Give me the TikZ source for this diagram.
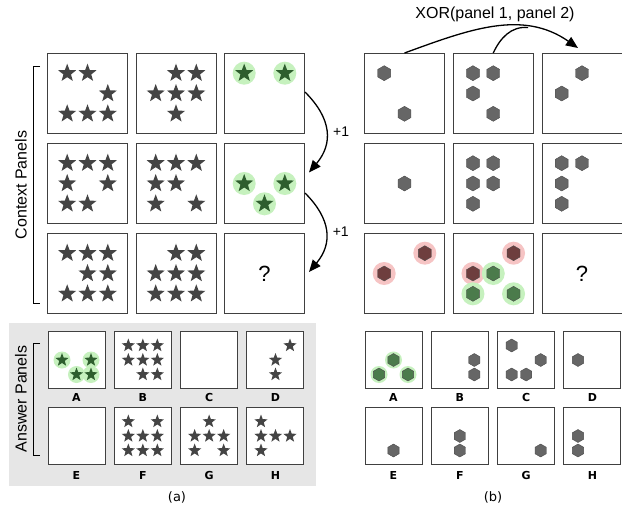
\documentclass[tikz,border=0pt]{standalone}
\usepackage{fontspec}
\setmainfont{Liberation Sans}
\newfontfamily\djv{DejaVu Sans}
\usetikzlibrary{shapes.geometric,arrows.meta,positioning}
\definecolor{starc}{HTML}{444444}
\definecolor{hexc}{HTML}{666666}
\definecolor{haloG}{HTML}{C6F1BE}
\definecolor{haloR}{HTML}{F6C4C4}
\definecolor{starG}{HTML}{2E5E2E}
\definecolor{hexG}{HTML}{4B7B4B}
\definecolor{hexR}{HTML}{6E3E3E}
\definecolor{ansbg}{HTML}{E6E6E6}

\begin{document}
\begin{tikzpicture}[x=1pt, y=1pt,
    panel/.style={draw=black!75, line width=1pt, fill=white, inner sep=0pt, minimum size=80pt},
    apanel/.style={panel, minimum size=57pt},
    bstar/.style={star, star points=5, star point ratio=2.4, fill=starc, inner sep=0pt, minimum size=19pt},
    sstar/.style={bstar, minimum size=14pt},
    bhex/.style={regular polygon, regular polygon sides=6, shape border rotate=30, fill=hexc, draw=black!70, line width=0.4pt, inner sep=0pt, minimum size=15pt},
    shex/.style={bhex, minimum size=13pt},
    halo/.style={circle, fill=#1, inner sep=0pt, minimum size=23pt},
    shalo/.style={halo=#1, minimum size=17pt},
    letter/.style={font=\djv\bfseries\fontsize{11}{11}\selectfont, inner sep=0pt},
    bigq/.style={font=\fontsize{22}{22}\selectfont},
    lbl/.style={font=\fontsize{16}{16}\selectfont},
    arr/.style={line width=1.3pt, -{Triangle[length=12pt,width=10pt]}},
  ]
  \useasboundingbox (0,0) rectangle (622,-506);
  \node[fill=ansbg, inner sep=0pt, minimum width=307pt, minimum height=163pt] (ansbox) at (162.5,-404.5) {};

  \foreach \i in {1,2,3}
    \foreach \j in {1,2,3} {
      \node[panel] (L\i\j) at ({87.5+(\j-1)*88.5},{-93.5-(\i-1)*90}) {};
      \node[panel] (R\i\j) at ({404.5+(\j-1)*88.75},{-93.5-(\i-1)*90}) {};
    }
  \foreach \n [count=\k from 0] in {A,B,C,D} {
    \node[apanel] (L\n) at ({76.5+\k*66.33},-360) {};
    \node[apanel] (R\n) at ({393.5+\k*66.33},-360) {};
    \node[letter, below=4pt of L\n] (L\n l) {\n};
    \node[letter, below=4pt of R\n] (R\n l) {\n};
  }
  \foreach \n [count=\k from 0] in {E,F,G,H} {
    \node[apanel] (L\n) at ({76.5+\k*66.33},-436) {};
    \node[apanel] (R\n) at ({393.5+\k*66.33},-436) {};
    \node[letter, below=6pt of L\n] (L\n l) {\n};
    \node[letter, below=6pt of R\n] (R\n l) {\n};
  }

  \foreach \p/\c/\r in {L13/1/1,L13/3/1,L23/1/2,L23/3/2,L23/2/3}
    \node[halo=haloG] (\p-h\c\r) at ([shift={({(\c-2)*20.3},{(2-\r)*20.3})}]\p.center) {};
  \foreach \p/\c/\r in {R31/3/1,R31/1/2,R32/3/1,R32/1/2}
    \node[halo=haloR] (\p-h\c\r) at ([shift={({(\c-2)*20.3},{(2-\r)*20.3})}]\p.center) {};
  \foreach \p/\c/\r in {R32/2/2,R32/1/3,R32/3/3}
    \node[halo=haloG] (\p-h\c\r) at ([shift={({(\c-2)*20.3},{(2-\r)*20.3})}]\p.center) {};
  \foreach \p/\c/\r in {LA/1/2,LA/3/2,LA/2/3,LA/3/3,RA/2/2,RA/1/3,RA/3/3}
    \node[shalo=haloG] (\p-h\c\r) at ([shift={({(\c-2)*14.5},{(2-\r)*14.5})}]\p.center) {};

  \foreach \p/\c/\r in {L11/1/1,L11/2/1,L11/3/2,L11/1/3,L11/2/3,L11/3/3,
      L12/2/1,L12/3/1,L12/1/2,L12/2/2,L12/3/2,L12/2/3,
      L21/1/1,L21/2/1,L21/3/1,L21/1/2,L21/3/2,L21/1/3,L21/2/3,
      L22/1/1,L22/2/1,L22/3/1,L22/1/2,L22/2/2,L22/1/3,L22/3/3,
      L31/1/1,L31/2/1,L31/3/1,L31/2/2,L31/3/2,L31/1/3,L31/2/3,L31/3/3,
      L32/2/1,L32/3/1,L32/1/2,L32/2/2,L32/3/2,L32/1/3,L32/2/3,L32/3/3}
    \node[bstar] (\p-\c\r) at ([shift={({(\c-2)*20.3},{(2-\r)*20.3})}]\p.center) {};
  \foreach \p/\c/\r in {L13/1/1,L13/3/1,L23/1/2,L23/3/2,L23/2/3}
    \node[bstar, fill=starG] (\p-\c\r) at ([shift={({(\c-2)*20.3},{(2-\r)*20.3})}]\p.center) {};
  \foreach \p/\c/\r in {LB/1/1,LB/2/1,LB/3/1,LB/1/2,LB/2/2,LB/3/2,LB/2/3,LB/3/3,
      LD/3/1,LD/2/2,LD/2/3,
      LF/1/1,LF/3/1,LF/1/2,LF/2/2,LF/3/2,LF/1/3,LF/2/3,LF/3/3,
      LG/2/1,LG/1/2,LG/2/2,LG/3/2,LG/1/3,LG/3/3,
      LH/1/1,LH/1/2,LH/2/2,LH/3/2,LH/1/3}
    \node[sstar] (\p-\c\r) at ([shift={({(\c-2)*14.5},{(2-\r)*14.5})}]\p.center) {};
  \foreach \p/\c/\r in {LA/1/2,LA/3/2,LA/2/3,LA/3/3}
    \node[sstar, fill=starG] (\p-\c\r) at ([shift={({(\c-2)*14.5},{(2-\r)*14.5})}]\p.center) {};

  \foreach \p/\c/\r in {R11/1/1,R11/2/3,
      R12/1/1,R12/2/1,R12/1/2,R12/2/3,
      R13/2/1,R13/1/2,
      R21/2/2,
      R22/1/1,R22/2/1,R22/1/2,R22/2/2,R22/1/3,
      R23/1/1,R23/2/1,R23/1/2,R23/1/3}
    \node[bhex] (\p-\c\r) at ([shift={({(\c-2)*20.3},{(2-\r)*20.3})}]\p.center) {};
  \foreach \p/\c/\r in {R31/3/1,R31/1/2,R32/3/1,R32/1/2}
    \node[bhex, fill=hexR] (\p-\c\r) at ([shift={({(\c-2)*20.3},{(2-\r)*20.3})}]\p.center) {};
  \foreach \p/\c/\r in {R32/2/2,R32/1/3,R32/3/3}
    \node[bhex, fill=hexG] (\p-\c\r) at ([shift={({(\c-2)*20.3},{(2-\r)*20.3})}]\p.center) {};
  \foreach \p/\c/\r in {RB/3/2,RB/3/3,RC/1/1,RC/3/2,RC/1/3,RC/2/3,RD/1/2,
      RE/2/3,RF/2/2,RF/2/3,RG/3/3,RH/1/2,RH/1/3}
    \node[shex] (\p-\c\r) at ([shift={({(\c-2)*14.5},{(2-\r)*14.5})}]\p.center) {};
  \foreach \p/\c/\r in {RA/2/2,RA/1/3,RA/3/3}
    \node[shex, fill=hexG] (\p-\c\r) at ([shift={({(\c-2)*14.5},{(2-\r)*14.5})}]\p.center) {};

  \node[bigq] (lq) at (L33) {?};
  \node[bigq] (rq) at (R33) {?};

  \draw[arr] ([yshift=1.5pt]L13.east) to[out=-45, in=50, looseness=1.2]
    node[right=3pt, font=\fontsize{14}{14}\selectfont] (inc1) {+1} ([xshift=4pt, yshift=11pt]L23.east);
  \draw[arr] ([yshift=-9.5pt]L23.east) to[out=-45, in=50, looseness=1.2]
    node[right=3pt, font=\fontsize{14}{14}\selectfont] (inc2) {+1} ([xshift=4pt, yshift=1.5pt]L33.east);

  \draw[arr] (R11.north) to[out=20, in=145] coordinate[pos=0.7] (xm) ([xshift=-4pt, yshift=5pt]R13.north);
  \draw[line width=1.3pt] (R12.north) to[out=65, in=175] (xm);
  \node[font=\fontsize{16}{16}\selectfont] (xor) at (495,-14) {XOR(panel 1, panel 2)};

  \coordinate (cbt) at (40,-66);
  \coordinate (cbb) at (40,-303);
  \draw[line width=1pt] (cbt) -- ++(-7,0) |- (cbb);
  \node[lbl, rotate=90] (ctx) at (21,-185) {Context Panels};
  \coordinate (abt) at (40,-343);
  \coordinate (abb) at (40,-455);
  \draw[line width=1pt] (abt) -- ++(-7,0) |- (abb);
  \node[lbl, rotate=90] (ans) at (21,-399) {Answer Panels};

  \node[font=\djv\fontsize{13}{13}\selectfont] (capa) at (177,-497) {(a)};
  \node[font=\djv\fontsize{13}{13}\selectfont] (capb) at (493,-497) {(b)};
\end{tikzpicture}
\end{document}
